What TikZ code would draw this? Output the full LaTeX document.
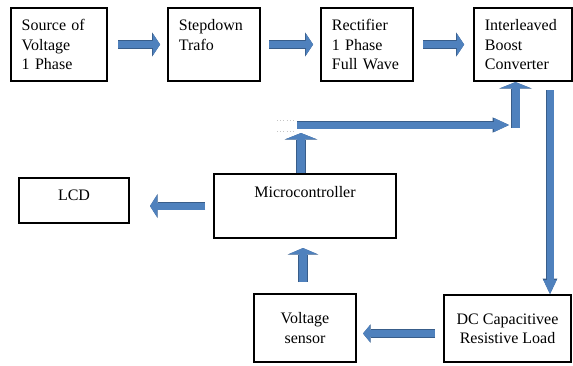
\documentclass[tikz,border=0pt]{standalone}
\usepackage{fontspec}
\setmainfont{Liberation Serif}
\usepackage{tikz}
\usetikzlibrary{arrows.meta,positioning}
\definecolor{arrfill}{RGB}{79,129,189}
\definecolor{arredge}{RGB}{56,93,138}

\begin{document}
\begin{tikzpicture}[x=0.75pt, y=-0.75pt,
          box/.style={draw, line width=1.6pt, inner sep=0pt,
                      font=\fontsize{12}{14.6}\selectfont},
          topbox/.style={box, align=left, text width=#1,
                         minimum height=54.7pt, inner xsep=8pt},
          arr/.style n args={3}{draw=arrfill, line width=#1,
                      -{Triangle[width=#2, length=#3, line width=0pt]},
                      preaction={draw=arredge, line width=#1+1.2pt,
                        -{Triangle[width=#2, length=#3, line width=0pt, scale=1.1]}}}
        ]
          \useasboundingbox (0,0) rectangle (573,365);
          % power path
          \node[topbox=56pt, anchor=north west] (src) at (10,7) {Source of\\Voltage\\1 Phase};
          \node[topbox=52.9pt, right=44.25pt of src] (step) {Stepdown\\Trafo\\\mbox{}};
          \node[topbox=52.9pt, right=44.25pt of step] (rect) {Rectifier\\1 Phase\\Full Wave};
          \node[topbox=57.4pt, right=44.25pt of rect] (ibc) {Interleaved\\Boost\\Converter};
          % control path
          \node[box, anchor=north west, minimum width=136.4pt, minimum height=47.9pt,
                text height=8pt, text depth=21.5pt] (mcu) at (213,173) {Microcontroller};
          \node[box, anchor=north west, minimum width=82.4pt, minimum height=33.7pt,
                text height=8pt, text depth=8.5pt] (lcd) at (18,177) {LCD};
          \node[box, anchor=north west, align=center, minimum width=76.4pt,
                minimum height=50.9pt] (vs) at (253,293) {Voltage\\sensor};
          \node[box, anchor=north west, align=center, minimum width=95.2pt,
                minimum height=50.2pt] (load) at (443,294) {DC Capacitivee\\Resistive Load};
          \coordinate (up1) at (301,133);
          \coordinate (hs) at (297,125);
          \coordinate (he) at (509,125);
          \coordinate (up2) at (515.5,128);
          \coordinate (dn) at (550,90);
          \draw[gray!45, dotted] (277,120) -- (295,120) (277,131) -- (295,131);
          \draw[arr={5.25pt}{16.5pt}{5.5pt}, shorten <=7.5pt, shorten >=5.25pt] (src) -- (step);
          \draw[arr={5.25pt}{16.5pt}{5.5pt}, shorten <=6pt, shorten >=5.25pt] (step) -- (rect);
          \draw[arr={5.25pt}{16.5pt}{5.5pt}, shorten <=6.75pt, shorten >=6.75pt] (rect) -- (ibc);
          \draw[arr={6pt}{22.5pt}{4.5pt}] (mcu.north -| up1) -- (up1);
          \draw[arr={5.25pt}{10.5pt}{11.25pt}] (hs) -- (he);
          \draw[arr={6pt}{22.5pt}{4.5pt}] (up2) -- (up2 |- ibc.south);
          \draw[arr={5.25pt}{10pt}{10.5pt}] (dn) -- (dn |- load.north);
          \draw[arr={5.25pt}{16.5pt}{5.25pt}, shorten <=6pt, shorten >=15pt] (mcu.west) -- (mcu.west -| lcd.east);
          \draw[arr={6pt}{21pt}{4.5pt}, shorten <=8.25pt, shorten >=6.75pt]
            ([xshift=-1.5pt]vs.north) -- ([xshift=-1.5pt]vs.north |- mcu.south);
          \draw[arr={5.25pt}{12.75pt}{5.25pt}, shorten <=6pt, shorten >=4.5pt]
            ([yshift=-3.75pt]load.west) -- ([yshift=-3.75pt]load.west -| vs.east);
        \end{tikzpicture}
\end{document}
